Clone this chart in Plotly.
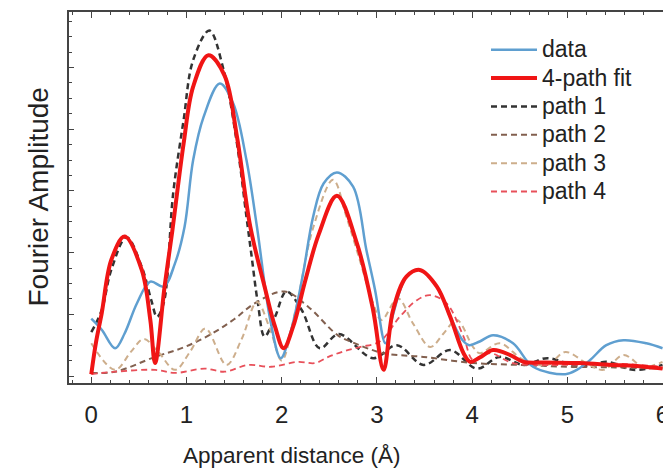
import plotly.graph_objects as go

# Apparent distance (Å) and Fourier amplitude (arb. units) for each curve
data_x = [0.00, 0.11, 0.25, 0.35, 0.48, 0.62, 0.76, 0.88, 0.98, 1.07, 1.18, 1.35, 1.49, 1.63, 1.74,
          1.88, 1.99, 2.10, 2.22, 2.33, 2.44, 2.58, 2.75, 2.89, 2.98, 3.09, 3.17, 3.31, 3.45, 3.63,
          3.77, 3.90, 3.97, 4.08, 4.22, 4.43, 4.64, 4.98, 5.10, 5.24, 5.41, 5.59, 5.83, 6.00]
data_y = [0.93, 0.75, 0.45, 0.69, 1.18, 1.53, 1.45, 1.83, 2.42, 3.50, 4.20, 4.74, 4.42, 3.50, 2.42,
          0.91, 0.29, 0.75, 1.62, 2.58, 3.12, 3.30, 3.07, 2.04, 1.40, 0.53, 1.00, 1.61, 1.72, 1.45,
          0.96, 0.58, 0.50, 0.56, 0.66, 0.53, 0.15, 0.03, 0.10, 0.26, 0.50, 0.58, 0.53, 0.45]

fit_x = [0.00, 0.05, 0.11, 0.21, 0.35, 0.53, 0.62, 0.67, 0.77, 0.85, 0.97, 1.07, 1.23, 1.40, 1.53,
         1.67, 1.82, 1.93, 2.02, 2.12, 2.25, 2.39, 2.58, 2.79, 2.96, 3.07, 3.17, 3.31, 3.45, 3.63,
         3.77, 3.91, 3.98, 4.08, 4.22, 4.40, 4.54, 4.78, 5.13, 5.48, 5.76, 6.00]
fit_y = [0.03, 0.55, 1.02, 1.88, 2.26, 1.72, 0.91, 0.21, 1.45, 2.34, 3.77, 4.69, 5.20, 4.87, 3.88,
         2.42, 1.45, 0.80, 0.45, 0.80, 1.56, 2.30, 2.92, 2.15, 1.07, 0.10, 1.07, 1.61, 1.72, 1.45,
         0.96, 0.37, 0.23, 0.30, 0.42, 0.34, 0.23, 0.22, 0.21, 0.18, 0.16, 0.12]

path1_x = [0.00, 0.11, 0.21, 0.37, 0.53, 0.63, 0.69, 0.76, 0.86, 0.97, 1.07, 1.24, 1.39, 1.53, 1.63,
           1.68, 1.75, 1.82, 1.93, 2.05, 2.21, 2.40, 2.60, 2.96, 3.21, 3.49, 3.77, 4.05, 4.29, 4.54,
           4.79, 5.13, 5.42, 5.69, 6.00]
path1_y = [0.71, 1.07, 1.72, 2.25, 1.77, 1.23, 0.96, 1.18, 2.96, 4.15, 5.12, 5.60, 4.96, 3.77, 2.58,
           1.99, 1.18, 0.64, 0.96, 1.37, 1.07, 0.45, 0.68, 0.29, 0.50, 0.18, 0.42, 0.12, 0.31, 0.18,
           0.29, 0.15, 0.23, 0.10, 0.18]

path2_x = [0.00, 0.25, 0.67, 0.98, 1.26, 1.50, 1.72, 2.03, 2.28, 2.59, 2.77, 3.07, 3.49, 4.01, 4.50,
           5.00, 5.50, 6.00]
path2_y = [0.05, 0.07, 0.31, 0.47, 0.68, 0.92, 1.18, 1.37, 1.12, 0.66, 0.53, 0.37, 0.31, 0.21, 0.18,
           0.15, 0.14, 0.12]

path3_x = [0.00, 0.25, 0.42, 0.55, 0.70, 0.88, 1.04, 1.20, 1.42, 1.58, 1.74, 1.88, 2.00, 2.15, 2.33,
           2.54, 2.68, 2.82, 2.96, 3.05, 3.22, 3.38, 3.56, 3.70, 3.84, 4.01, 4.08, 4.29, 4.54, 4.79,
           4.98, 5.20, 5.38, 5.59, 5.80, 6.00]
path3_y = [0.53, 0.10, 0.40, 0.60, 0.40, 0.10, 0.40, 0.77, 0.18, 0.60, 1.20, 0.75, 0.25, 1.10, 2.40,
           3.18, 2.58, 1.88, 1.18, 0.91, 1.26, 0.85, 0.47, 0.69, 0.91, 0.47, 0.37, 0.53, 0.26, 0.18,
           0.39, 0.21, 0.10, 0.34, 0.15, 0.23]

path4_x = [0.00, 0.25, 0.67, 0.88, 1.19, 1.40, 1.65, 1.89, 2.17, 2.35, 2.49, 2.65, 2.82, 3.03, 3.24,
           3.42, 3.56, 3.73, 3.91, 4.01, 4.19, 4.43, 5.00, 5.50, 6.00]
path4_y = [0.03, 0.07, 0.10, 0.05, 0.12, 0.07, 0.18, 0.15, 0.23, 0.21, 0.31, 0.40, 0.47, 0.56, 0.96,
           1.23, 1.31, 1.18, 0.64, 0.26, 0.37, 0.21, 0.18, 0.20, 0.15]

x_ticks = [0, 1, 2, 3, 4, 5, 6]

FONT = "Liberation Sans, Arial, Helvetica, sans-serif"
DASH = "6px,4px"


def legend_name(text):
    # legend rows are spaced by legend.font.size; the label itself is drawn a little larger
    return f'<span style="font-size:23px">{text}</span>'


fig = go.Figure()

# Dashed single-path contributions drawn first, then data, then the fit on top
fig.add_trace(go.Scatter(x=path1_x, y=path1_y, name=legend_name("path 1"), mode="lines", legendrank=3,
                         line=dict(color="#333333", width=2.5, dash=DASH, shape="spline")))
fig.add_trace(go.Scatter(x=path2_x, y=path2_y, name=legend_name("path 2"), mode="lines", legendrank=4,
                         line=dict(color="#82604f", width=2, dash=DASH, shape="spline")))
fig.add_trace(go.Scatter(x=path3_x, y=path3_y, name=legend_name("path 3"), mode="lines", legendrank=5,
                         line=dict(color="#cdae8c", width=2, dash=DASH, shape="spline")))
fig.add_trace(go.Scatter(x=path4_x, y=path4_y, name=legend_name("path 4"), mode="lines", legendrank=6,
                         line=dict(color="#e8505a", width=1.8, dash=DASH, shape="spline")))
fig.add_trace(go.Scatter(x=data_x, y=data_y, name=legend_name("data"), mode="lines", legendrank=1,
                         line=dict(color="#5f9fd0", width=2.5, shape="spline")))
fig.add_trace(go.Scatter(x=fit_x, y=fit_y, name=legend_name("4-path fit"), mode="lines", legendrank=2,
                         line=dict(color="#f01515", width=4, shape="spline")))

fig.update_layout(
    width=663, height=472,
    margin=dict(l=69, r=0, t=12, b=89, autoexpand=False),
    paper_bgcolor="white", plot_bgcolor="white",
    font=dict(family=FONT, color="#222222"),
    showlegend=True,
    legend=dict(x=(486 - 69) / 594, y=0.95, xanchor="left", yanchor="top", itemwidth=46,
                bgcolor="rgba(0,0,0,0)", font=dict(size=19.5, family=FONT, color="#222222"),
                tracegroupgap=0),
    xaxis=dict(range=[-0.234, 6.005], tickvals=x_ticks, ticktext=[str(t) for t in x_ticks],
               ticks="inside", ticklen=6, tickwidth=1.3, tickcolor="#444444",
               minor=dict(dtick=0.2, tick0=0, ticks="inside", ticklen=3, tickcolor="#444444"),
               showline=True, linecolor="#444444", linewidth=2, mirror="allticks",
               showgrid=False, zeroline=False, ticklabeloverflow="allow", ticklabelstandoff=9,
               tickfont=dict(size=24, family=FONT, color="#222222")),
    yaxis=dict(range=[-0.113, 5.9], dtick=1, tick0=0, showticklabels=False,
               ticks="inside", ticklen=5, tickwidth=1.3, tickcolor="#444444",
               minor=dict(dtick=0.25, tick0=0, ticks="inside", ticklen=3, tickcolor="#444444"),
               showline=True, linecolor="#444444", linewidth=2, mirror=False,
               showgrid=False, zeroline=False),
    annotations=[
        dict(text="Apparent distance (Å)", xref="paper", yref="paper",
             x=(292 - 69) / 594, y=-(455 - 383) / 371, xanchor="center", yanchor="middle",
             showarrow=False, font=dict(size=22.5, family=FONT, color="#222222")),
        dict(text="Fourier Amplitude", xref="paper", yref="paper",
             x=-(69 - 38) / 594, y=0.5, xanchor="center", yanchor="middle", textangle=-90,
             showarrow=False, font=dict(size=28, family=FONT, color="#222222")),
    ],
)

fig.write_html("out.html")
